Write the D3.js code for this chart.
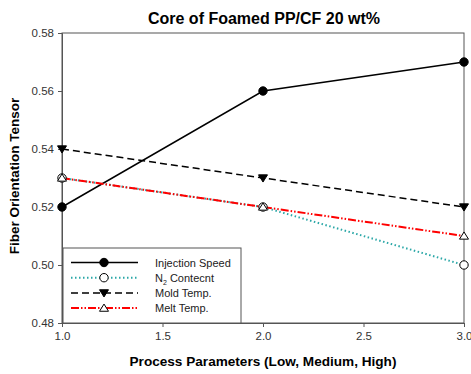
<!DOCTYPE html>
<html>
<head>
<meta charset="utf-8">
<script src="https://cdn.jsdelivr.net/npm/d3@7"></script>
<style>
  body { margin: 0; background: #fff; }
  text { font-family: Arial, "Liberation Sans", sans-serif; }
</style>
</head>
<body>
<svg width="471" height="374"></svg>
<script>
// dados
const niveis = [1.0, 2.0, 3.0];
const injectionSpeed = [0.52, 0.56, 0.57];
const n2Content = [0.53, 0.52, 0.50];
const moldTemp = [0.54, 0.53, 0.52];
const meltTemp = [0.53, 0.52, 0.51];
const xTicks = [1.0, 1.5, 2.0, 2.5, 3.0];
const yTicks = [0.48, 0.50, 0.52, 0.54, 0.56, 0.58];

const series = [
  { nome: "Injection Speed", valores: injectionSpeed, cor: "#000", dash: null, marca: "circle", fill: "#000" },
  { nome: "N2 Contecnt", valores: n2Content, cor: "#2aa7a7", dash: "1.5,2.5", marca: "circle", fill: "#fff" },
  { nome: "Mold Temp.", valores: moldTemp, cor: "#000", dash: "7,4", marca: "down", fill: "#000" },
  { nome: "Melt Temp.", valores: meltTemp, cor: "#ff0000", dash: "8,2,1.5,2,1.5,2", marca: "up", fill: "#fff" }
];

const svg = d3.select("svg");
const mEsq = 62, mDir = 464, mTopo = 33, mBase = 323;

const x = d3.scaleLinear().domain([1, 3]).range([mEsq, mDir]);
const y = d3.scaleLinear().domain([0.48, 0.58]).range([mBase, mTopo]);

// moldura
svg.append("rect")
  .attr("x", mEsq).attr("y", mTopo)
  .attr("width", mDir - mEsq).attr("height", mBase - mTopo)
  .attr("fill", "none").attr("stroke", "#555").attr("stroke-width", 1);

// eixos
const gx = svg.append("g").attr("transform", `translate(0,${mBase})`)
  .call(d3.axisBottom(x).tickValues(xTicks).tickSize(4).tickFormat(d3.format(".1f")));
const gy = svg.append("g").attr("transform", `translate(${mEsq},0)`)
  .call(d3.axisLeft(y).tickValues(yTicks).tickSize(4).tickFormat(d3.format(".2f")));
[gx, gy].forEach(g => {
  g.select(".domain").attr("stroke", "#555");
  g.selectAll(".tick line").attr("stroke", "#555");
  g.selectAll(".tick text").attr("font-size", 11.5).attr("fill", "#333")
    .attr("font-family", "Arial, 'Liberation Sans', sans-serif");
});
gx.selectAll(".tick text").attr("dy", "0.9em");
gy.selectAll(".tick text").attr("x", -8);

// linhas
const linha = d3.line().x((d, i) => x(niveis[i])).y(d => y(d));

function desenhaMarca(g, tipo, cx, cy, fill) {
  if (tipo === "circle") {
    g.append("circle").attr("cx", cx).attr("cy", cy).attr("r", 4.2)
      .attr("fill", fill).attr("stroke", "#000").attr("stroke-width", 1);
  } else {
    const s = 4.5;
    const pts = tipo === "down"
      ? [[cx - s, cy - s * 0.7], [cx + s, cy - s * 0.7], [cx, cy + s * 0.9]]
      : [[cx - s, cy + s * 0.7], [cx + s, cy + s * 0.7], [cx, cy - s * 0.9]];
    g.append("path").attr("d", "M" + pts.join("L") + "Z")
      .attr("fill", fill).attr("stroke", "#000").attr("stroke-width", 1);
  }
}

series.forEach(s => {
  svg.append("path")
    .datum(s.valores)
    .attr("d", linha)
    .attr("fill", "none")
    .attr("stroke", s.cor)
    .attr("stroke-width", s.cor === "#000" ? 1.5 : 2)
    .attr("stroke-dasharray", s.dash);
});
series.forEach(s => {
  const g = svg.append("g");
  s.valores.forEach((v, i) => desenhaMarca(g, s.marca, x(niveis[i]), y(v), s.fill));
});

// legenda
const leg = svg.append("g");
leg.append("rect").attr("x", 63).attr("y", 248).attr("width", 178).attr("height", mBase - 248)
  .attr("fill", "#fff").attr("stroke", "#555").attr("stroke-width", 1);
series.forEach((s, i) => {
  const ly = 262.5 + i * 15.2;
  leg.append("line").attr("x1", 71).attr("x2", 138).attr("y1", ly).attr("y2", ly)
    .attr("stroke", s.cor).attr("stroke-width", s.cor === "#000" ? 1.5 : 2)
    .attr("stroke-dasharray", s.dash);
  desenhaMarca(leg, s.marca, 104, ly, s.fill);
  const t = leg.append("text").attr("x", 155).attr("y", ly + 4)
    .attr("font-size", 11).attr("fill", "#222");
  if (i === 1) {
    t.append("tspan").text("N");
    t.append("tspan").attr("font-size", 7).attr("dy", 3).text("2");
    t.append("tspan").attr("dy", -3).text(" Contecnt");
  } else {
    t.text(s.nome);
  }
});

// titulos
svg.append("text").attr("x", 264).attr("y", 24).attr("text-anchor", "middle")
  .attr("font-size", 16).attr("font-weight", "bold").text("Core of Foamed PP/CF 20 wt%");
svg.append("text").attr("x", 263).attr("y", 366).attr("text-anchor", "middle")
  .attr("font-size", 13.6).attr("font-weight", "bold").text("Process Parameters (Low, Medium, High)");
svg.append("text").attr("transform", "translate(19,176) rotate(-90)").attr("text-anchor", "middle")
  .attr("font-size", 13.5).attr("font-weight", "bold").text("Fiber Orientation Tensor");
</script>
</body>
</html>
